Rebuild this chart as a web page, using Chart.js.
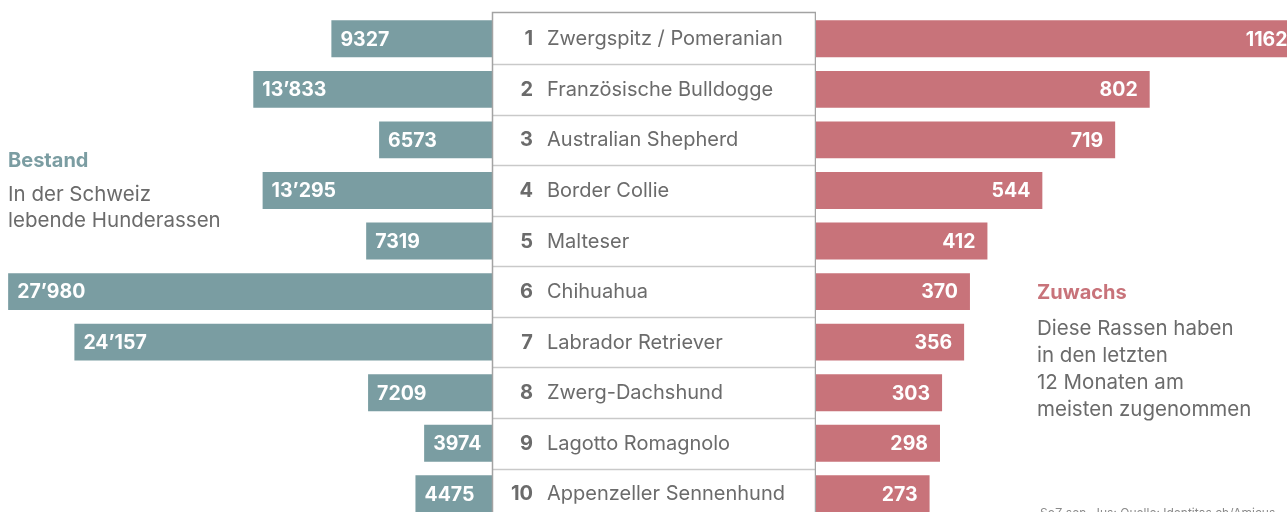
<!DOCTYPE html>
<html>
<head>
<meta charset="utf-8">
<script src="https://cdn.jsdelivr.net/npm/chart.js@4/dist/chart.umd.min.js"></script>
<style>
  html, body { margin: 0; padding: 0; background: #fff; }
  #wrap { position: relative; width: 1287px; height: 512px; overflow: hidden; background: #fff; font-family: Inter, "Noto Sans", sans-serif; }
  #cL { position: absolute; left: 0; top: 0; }
  #cR { position: absolute; left: 816px; top: 0; }
  .note { position: absolute; color: #6b6b6b; font-size: 20.5px; line-height: 27px; }
  .note b { display: block; font-weight: 700; margin-bottom: 8px; font-size: 20px; }
  #noteL { left: 8px; top: 147px; line-height: 26px; }
  #noteL b { color: #7b9da2; }
  #noteR { left: 1037px; top: 279px; }
  #noteR b { color: #c8737a; }
  #src { position: absolute; left: 1040px; top: 505px; font-size: 12px; color: #8a8a8a; white-space: nowrap; }
</style>
</head>
<body>
<div id="wrap">
  <canvas id="cL" width="816" height="530"></canvas>
  <canvas id="cR" width="471" height="530"></canvas>
  <div class="note" id="noteL"><b>Bestand</b>In der Schweiz<br>lebende Hunderassen</div>
  <div class="note" id="noteR"><b>Zuwachs</b>Diese Rassen haben<br>in den letzten<br>12 Monaten am<br>meisten zugenommen</div>
  <div id="src">SoZ sen. Jus; Quelle: Identitas.ch/Amicus</div>
</div>
<script>
const ranks = ["1","2","3","4","5","6","7","8","9","10"];
const breeds = ["Zwergspitz / Pomeranian","Französische Bulldogge","Australian Shepherd","Border Collie","Malteser","Chihuahua","Labrador Retriever","Zwerg-Dachshund","Lagotto Romagnolo","Appenzeller Sennenhund"];
const bestand = [9327, 13833, 6573, 13295, 7319, 27980, 24157, 7209, 3974, 4475];
const zuwachs = [1162, 802, 719, 544, 412, 370, 356, 303, 298, 273];

const TEAL = "#7a9da2";
const RED = "#c8737a";
const FONT = 'Inter, "Noto Sans", sans-serif';

function fmt(v) {
  const s = String(v);
  if (v >= 10000) return s.slice(0, s.length - 3) + "\u2019" + s.slice(s.length - 3);
  return s;
}

const leftPlugin = {
  id: "leftPlugin",
  afterDatasetsDraw(chart) {
    const ctx = chart.ctx;
    const y = chart.scales.y;
    const x = chart.scales.x;
    const meta = chart.getDatasetMeta(0);
    ctx.save();
    ctx.font = "bold 19.5px " + FONT;
    ctx.fillStyle = "#ffffff";
    ctx.textAlign = "left";
    ctx.textBaseline = "middle";
    meta.data.forEach((bar, i) => {
      const xl = x.getPixelForValue(bestand[i]);
      ctx.fillText(fmt(bestand[i]), xl + 9, bar.y + 1);
    });
    const bx0 = 492.5, bx1 = 815.5;
    const half = (y.getPixelForValue(1) - y.getPixelForValue(0)) / 2;
    const top = y.getPixelForValue(0) - half - 1;
    ctx.fillStyle = "#ffffff";
    ctx.fillRect(bx0, top, bx1 - bx0, 600);
    ctx.strokeStyle = "#c9c9c9";
    ctx.lineWidth = 1.5;
    for (let i = 0; i < ranks.length - 1; i++) {
      const ly = Math.round(y.getPixelForValue(i) + half) + 0.5;
      ctx.beginPath(); ctx.moveTo(bx0, ly); ctx.lineTo(bx1, ly); ctx.stroke();
    }
    ctx.strokeStyle = "#a3a3a3";
    ctx.lineWidth = 1.5;
    ctx.beginPath();
    ctx.moveTo(bx0, 600); ctx.lineTo(bx0, top); ctx.lineTo(bx1, top); ctx.lineTo(bx1, 600);
    ctx.stroke();
    ranks.forEach((r, i) => {
      const cy = y.getPixelForValue(i) + 0.5;
      ctx.fillStyle = "#6b6b6b";
      ctx.font = "bold 20px " + FONT;
      ctx.textAlign = "right";
      ctx.fillText(r, 533, cy);
      ctx.font = "20px " + FONT;
      ctx.textAlign = "left";
      ctx.fillText(breeds[i], 547, cy);
    });
    ctx.restore();
  }
};

const rightPlugin = {
  id: "rightPlugin",
  afterDatasetsDraw(chart) {
    const ctx = chart.ctx;
    const x = chart.scales.x;
    const meta = chart.getDatasetMeta(0);
    ctx.save();
    ctx.font = "bold 19.5px " + FONT;
    ctx.fillStyle = "#ffffff";
    ctx.textAlign = "right";
    ctx.textBaseline = "middle";
    meta.data.forEach((bar, i) => {
      const xr = x.getPixelForValue(zuwachs[i]);
      ctx.fillText(String(zuwachs[i]), xr - 12, bar.y + 1);
    });
    ctx.restore();
  }
};

const common = {
  indexAxis: "y",
  responsive: false,
  animation: false,
  events: [],
  plugins: { legend: { display: false }, tooltip: { enabled: false } },
};

new Chart(document.getElementById("cL"), {
  type: "bar",
  data: { labels: breeds, datasets: [{ data: bestand, backgroundColor: TEAL, borderWidth: 0, categoryPercentage: 1, barPercentage: 0.73 }] },
  options: Object.assign({}, common, {
    layout: { padding: { left: 0, right: 323, top: 13.5, bottom: 10.9 } },
    scales: {
      x: { display: false, reverse: true, min: 0, max: 28450 },
      y: { display: false }
    }
  }),
  plugins: [leftPlugin]
});

new Chart(document.getElementById("cR"), {
  type: "bar",
  data: { labels: breeds, datasets: [{ data: zuwachs, backgroundColor: RED, borderWidth: 0, categoryPercentage: 1, barPercentage: 0.73, clip: false }] },
  options: Object.assign({}, common, {
    layout: { padding: { left: 0, right: 0, top: 13.5, bottom: 10.9 } },
    scales: {
      x: { display: false, min: 0, max: 1132 },
      y: { display: false }
    }
  }),
  plugins: [rightPlugin]
});
</script>
</body>
</html>
